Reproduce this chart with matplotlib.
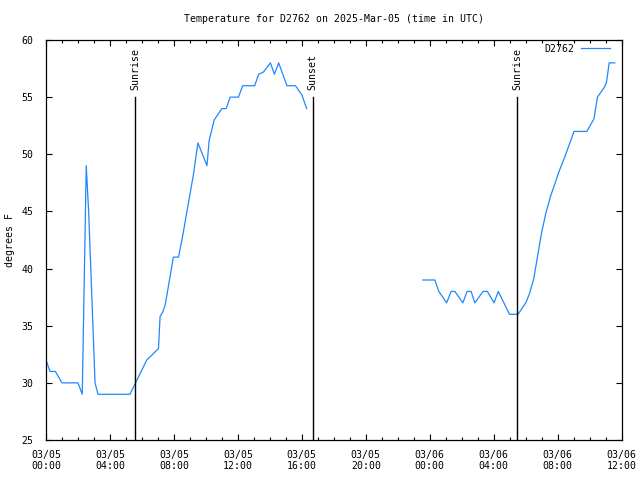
import matplotlib
matplotlib.use('Agg')
import matplotlib.pyplot as plt
import matplotlib.dates as mdates
import numpy as np
from datetime import datetime

# ---- data ----
obs_times = [
    "2025-03-05 00:00", "2025-03-05 00:15", "2025-03-05 00:35", "2025-03-05 01:00",
    "2025-03-05 02:00", "2025-03-05 02:16", "2025-03-05 02:31", "2025-03-05 02:40",
    "2025-03-05 03:04", "2025-03-05 03:15", "2025-03-05 05:15", "2025-03-05 06:18",
    "2025-03-05 07:02", "2025-03-05 07:08", "2025-03-05 07:18", "2025-03-05 07:27",
    "2025-03-05 07:58", "2025-03-05 08:17", "2025-03-05 08:30", "2025-03-05 09:13",
    "2025-03-05 09:30", "2025-03-05 10:04", "2025-03-05 10:12", "2025-03-05 10:31",
    "2025-03-05 11:00", "2025-03-05 11:16", "2025-03-05 11:31", "2025-03-05 12:02",
    "2025-03-05 12:18", "2025-03-05 13:03", "2025-03-05 13:18", "2025-03-05 13:36",
    "2025-03-05 14:02", "2025-03-05 14:17", "2025-03-05 14:33", "2025-03-05 15:04",
    "2025-03-05 15:36", "2025-03-05 16:00", "2025-03-05 16:18",
    "2025-03-05 23:34", "2025-03-06 00:19", "2025-03-06 00:34", "2025-03-06 01:03",
    "2025-03-06 01:20", "2025-03-06 01:34", "2025-03-06 02:04", "2025-03-06 02:20",
    "2025-03-06 02:35", "2025-03-06 02:49", "2025-03-06 03:20", "2025-03-06 03:36",
    "2025-03-06 04:01", "2025-03-06 04:17", "2025-03-06 04:59", "2025-03-06 05:31",
    "2025-03-06 06:00", "2025-03-06 06:14", "2025-03-06 06:30", "2025-03-06 06:46",
    "2025-03-06 06:59", "2025-03-06 07:15", "2025-03-06 07:34", "2025-03-06 07:46",
    "2025-03-06 08:05", "2025-03-06 08:27", "2025-03-06 09:01", "2025-03-06 09:49",
    "2025-03-06 10:16", "2025-03-06 10:29", "2025-03-06 10:56", "2025-03-06 11:03",
    "2025-03-06 11:13", "2025-03-06 11:34",
]
obs_temps = [
    32, 31, 31, 30,
    30, 29, 49, 45,
    30, 29, 29, 32,
    33, 35.8, 36.2, 36.8,
    41, 41, 42.5, 48.2,
    51, 49, 51.2, 53,
    54, 54, 55, 55,
    56, 56, 57, 57.2,
    58, 57, 58, 56,
    56, 55.2, 54,
    39, 39, 38, 37,
    38, 38, 37, 38,
    38, 37, 38, 38,
    37, 38, 36, 36,
    37, 37.8, 39.1, 41.3,
    43.1, 44.8, 46.4, 47.2,
    48.5, 49.8, 52, 52,
    53.1, 55, 55.9, 56.3,
    58, 58,
]
event_labels = ["Sunrise", "Sunset", "Sunrise"]
event_times = ["2025-03-05 05:34", "2025-03-05 16:40", "2025-03-06 05:28"]
series_name = "D2762"
title = "Temperature for D2762 on 2025-Mar-05 (time in UTC)"

# ---- build with gap ----
fmt = "%Y-%m-%d %H:%M"
t = [datetime.strptime(s, fmt) for s in obs_times]
xs, ys = [], []
for i, (ti, yi) in enumerate(zip(t, obs_temps)):
    if i > 0 and (ti - t[i - 1]).total_seconds() > 3 * 3600:
        xs.append(ti)
        ys.append(np.nan)
    xs.append(ti)
    ys.append(yi)

plt.rcParams['font.family'] = ['DejaVu Sans Mono']
fs = 7.15

fig = plt.figure(figsize=(6.4, 4.8), dpi=100)
ax_l, ax_r = 46 / 640, 621.7 / 640
ax = fig.add_axes([ax_l, 40 / 480, ax_r - ax_l, 400 / 480])

line_color = '#1e88ff'
ax.plot(xs, ys, color=line_color, lw=0.9, label=series_name)

for lab, et in zip(event_labels, event_times):
    d = datetime.strptime(et, fmt)
    ax.axvline(d, ymin=0, ymax=(55 - 25) / 35, color='black', lw=1.0)
    ax.text(d, 55.6, lab, rotation=90, ha='center', va='bottom', fontsize=fs)

ax.set_xlim(datetime(2025, 3, 5, 0, 0), datetime(2025, 3, 6, 12, 0))
ax.set_ylim(25, 60)
ax.set_yticks(np.arange(25, 61, 5))
ax.xaxis.set_major_locator(mdates.HourLocator(byhour=range(0, 24, 4)))
ax.xaxis.set_minor_locator(mdates.HourLocator(interval=1))
ax.xaxis.set_major_formatter(mdates.DateFormatter('%m/%d\n%H:%M'))

ax.tick_params(axis='both', which='major', direction='in', length=4, width=0.8,
               top=True, right=True, labelsize=fs)
ax.tick_params(axis='x', which='minor', direction='in', length=2, width=0.8,
               top=True, bottom=True)
ax.tick_params(axis='x', which='major', pad=7)
ax.tick_params(axis='y', which='major', pad=9)
for sp in ax.spines.values():
    sp.set_linewidth(0.9)

fig.text((ax_l + ax_r) / 2, 1 - 19 / 480, title, ha='center', va='center', fontsize=fs)
fig.text(10 / 640, 0.5, "degrees F", rotation=90, ha='center', va='center', fontsize=fs)

ax.legend(loc='upper right', bbox_to_anchor=(1 - 5 / 575.7, 1 + 3 / 400),
          frameon=False, markerfirst=False, fontsize=fs,
          handlelength=2.9, handletextpad=0.7, borderaxespad=0.2, borderpad=0.5)

fig.savefig('out.png', dpi=100)
